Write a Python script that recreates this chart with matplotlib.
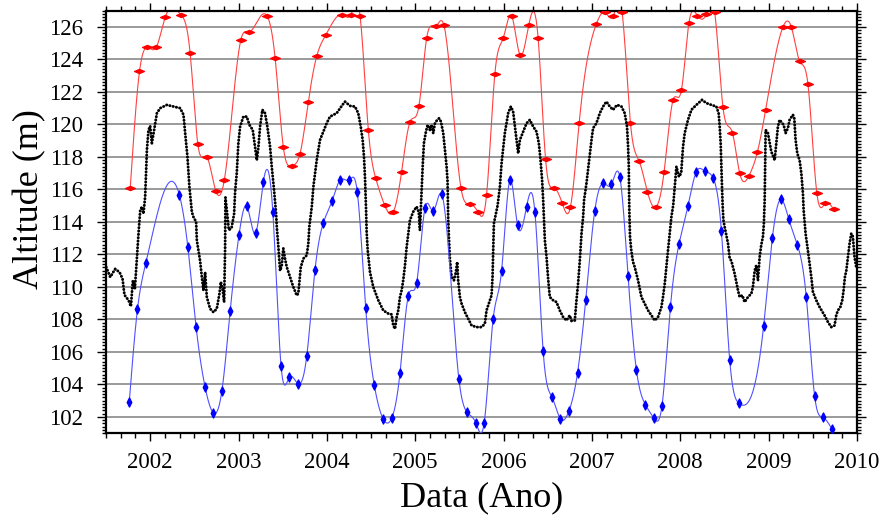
import numpy as np
import matplotlib
matplotlib.use('Agg')
import matplotlib.pyplot as plt
from matplotlib.ticker import MultipleLocator, FixedLocator
from matplotlib.path import Path

# ---------------- data ----------------
red_t = [2001.774, 2001.879, 2001.969, 2002.068, 2002.170, 2002.347, 2002.452, 2002.539,
         2002.641, 2002.743, 2002.840, 2003.026, 2003.123, 2003.320, 2003.414, 2003.507,
         2003.602, 2003.696, 2003.790, 2003.885, 2003.987, 2004.175, 2004.273, 2004.375,
         2004.469, 2004.552, 2004.654, 2004.751, 2004.846, 2004.940, 2005.042, 2005.129,
         2005.231, 2005.325, 2005.517, 2005.619, 2005.712, 2005.807, 2005.901, 2005.995,
         2006.090, 2006.184, 2006.286, 2006.391, 2006.475, 2006.569, 2006.662, 2006.757,
         2006.855, 2007.051, 2007.145, 2007.239, 2007.341, 2007.436, 2007.533, 2007.628,
         2007.722, 2007.816, 2007.918, 2008.012, 2008.098, 2008.193, 2008.295, 2008.389,
         2008.483, 2008.589, 2008.672, 2008.777, 2008.872, 2008.966, 2009.162, 2009.257,
         2009.350, 2009.444, 2009.546, 2009.641, 2009.735]
red_h = [116.06, 123.26, 124.74, 124.74, 126.60, 126.76, 124.40, 118.80,
         118.00, 115.90, 116.60, 125.20, 125.70, 126.70, 124.09, 118.60,
         117.46, 118.20, 121.40, 124.20, 125.50, 126.76, 126.76, 126.70,
         119.66, 116.70, 115.03, 114.60, 117.09, 120.14, 121.14, 125.30,
         126.04, 126.10, 116.10, 115.10, 114.60, 115.65, 123.10, 125.30,
         126.70, 124.30, 126.14, 125.30, 117.87, 116.10, 115.17, 114.93,
         120.07, 126.20, 126.90, 126.65, 126.90, 120.07, 117.76, 115.85,
         114.90, 117.05, 121.50, 122.09, 126.25, 126.70, 126.80, 126.90,
         121.06, 119.50, 117.00, 116.84, 118.28, 120.90, 126.00, 126.00,
         123.90, 122.50, 115.75, 115.14, 114.77]

black_t = [2001.502, 2001.548, 2001.604, 2001.653, 2001.687, 2001.709, 2001.755, 2001.782,
           2001.804, 2001.827, 2001.850, 2001.868, 2001.887, 2001.906, 2001.924, 2001.943,
           2001.963, 2001.981, 2002.000, 2002.019, 2002.045, 2002.076, 2002.113, 2002.189,
           2002.263, 2002.339, 2002.377, 2002.396, 2002.422, 2002.444, 2002.472, 2002.490,
           2002.520, 2002.528, 2002.565, 2002.585, 2002.603, 2002.622, 2002.641, 2002.678,
           2002.716, 2002.754, 2002.784, 2002.800, 2002.822, 2002.837, 2002.848, 2002.852,
           2002.870, 2002.890, 2002.920, 2002.950, 2002.961, 2002.980, 2002.998, 2003.018,
           2003.055, 2003.093, 2003.123, 2003.161, 2003.187, 2003.207, 2003.225, 2003.244,
           2003.270, 2003.300, 2003.326, 2003.357, 2003.376, 2003.402, 2003.425, 2003.433,
           2003.451, 2003.470, 2003.489, 2003.507, 2003.527, 2003.546, 2003.583, 2003.620,
           2003.659, 2003.677, 2003.704, 2003.734, 2003.772, 2003.790, 2003.801, 2003.829,
           2003.847, 2003.885, 2003.922, 2003.960, 2003.998, 2004.035, 2004.111, 2004.168,
           2004.205, 2004.262, 2004.318, 2004.355, 2004.383, 2004.405, 2004.420, 2004.431,
           2004.439, 2004.443, 2004.450, 2004.462, 2004.488, 2004.525, 2004.582, 2004.638,
           2004.695, 2004.733, 2004.751, 2004.771, 2004.790, 2004.808, 2004.827, 2004.846,
           2004.864, 2004.884, 2004.903, 2004.921, 2004.940, 2004.977, 2005.016, 2005.040,
           2005.053, 2005.072, 2005.084, 2005.098, 2005.121, 2005.140, 2005.166, 2005.185,
           2005.204, 2005.223, 2005.249, 2005.271, 2005.291, 2005.317, 2005.336, 2005.355,
           2005.366, 2005.373, 2005.381, 2005.392, 2005.412, 2005.438, 2005.460, 2005.475,
           2005.486, 2005.506, 2005.525, 2005.562, 2005.599, 2005.638, 2005.694, 2005.751,
           2005.788, 2005.807, 2005.845, 2005.864, 2005.875, 2005.882, 2005.890, 2005.913,
           2005.932, 2005.958, 2005.977, 2006.014, 2006.052, 2006.082, 2006.108, 2006.128,
           2006.147, 2006.165, 2006.184, 2006.215, 2006.260, 2006.297, 2006.334, 2006.373,
           2006.399, 2006.418, 2006.436, 2006.448, 2006.467, 2006.486, 2006.504, 2006.523,
           2006.561, 2006.599, 2006.636, 2006.674, 2006.712, 2006.749, 2006.769, 2006.806,
           2006.825, 2006.843, 2006.863, 2006.882, 2006.900, 2006.911, 2006.938, 2006.968,
           2006.995, 2007.013, 2007.051, 2007.089, 2007.126, 2007.164, 2007.202, 2007.239,
           2007.284, 2007.334, 2007.371, 2007.397, 2007.409, 2007.417, 2007.420, 2007.423,
           2007.431, 2007.445, 2007.465, 2007.484, 2007.522, 2007.560, 2007.597, 2007.635,
           2007.673, 2007.711, 2007.748, 2007.786, 2007.804, 2007.824, 2007.843, 2007.861,
           2007.880, 2007.899, 2007.920, 2007.937, 2007.956, 2007.985, 2008.010, 2008.031,
           2008.050, 2008.087, 2008.126, 2008.182, 2008.246, 2008.295, 2008.352, 2008.408,
           2008.434, 2008.446, 2008.457, 2008.465, 2008.472, 2008.480, 2008.488, 2008.502,
           2008.540, 2008.559, 2008.578, 2008.615, 2008.653, 2008.672, 2008.702, 2008.728,
           2008.766, 2008.804, 2008.822, 2008.842, 2008.861, 2008.879, 2008.898, 2008.917,
           2008.935, 2008.946, 2008.955, 2008.966, 2008.992, 2009.030, 2009.068, 2009.105,
           2009.124, 2009.170, 2009.192, 2009.218, 2009.237, 2009.275, 2009.290, 2009.305,
           2009.324, 2009.350, 2009.370, 2009.388, 2009.396, 2009.418, 2009.444, 2009.483,
           2009.501, 2009.539, 2009.577, 2009.633, 2009.671, 2009.709, 2009.746, 2009.765,
           2009.784, 2009.811, 2009.833, 2009.848, 2009.863, 2009.879, 2009.897, 2009.916,
           2009.935, 2009.953, 2009.972, 2009.992]
black_h = [111.22, 110.60, 111.10, 110.90, 110.50, 109.50, 109.17, 108.80,
           110.40, 109.90, 111.84, 113.28, 114.70, 114.93, 114.50, 115.54,
           118.43, 119.66, 119.90, 118.84, 119.66, 120.69, 121.00, 121.20,
           121.10, 121.00, 120.60, 119.46, 118.00, 116.16, 114.60, 114.30,
           114.00, 112.87, 111.60, 110.60, 109.78, 110.90, 109.37, 108.65,
           108.44, 108.65, 109.58, 110.30, 109.78, 109.06, 112.40, 115.50,
           114.60, 113.50, 113.60, 114.50, 115.85, 117.00, 118.84, 119.87,
           120.48, 120.48, 119.97, 119.66, 118.63, 117.80, 118.60, 119.87,
           120.90, 120.69, 119.87, 118.63, 117.40, 115.96, 114.52, 113.69,
           112.46, 111.00, 111.30, 112.36, 111.70, 111.22, 110.60, 109.99,
           109.47, 109.60, 111.20, 111.74, 111.94, 112.67, 113.70, 114.93,
           116.16, 117.80, 119.04, 119.55, 120.07, 120.48, 120.69, 121.14,
           121.40, 121.14, 121.10, 120.69, 119.87, 119.04, 118.00, 116.78,
           115.54, 114.83, 113.38, 112.25, 110.90, 109.99, 109.17, 108.55,
           108.35, 108.30, 107.62, 107.42, 108.14, 108.55, 109.37, 109.78,
           110.40, 111.33, 112.46, 113.28, 114.10, 114.62, 114.93, 114.60,
           113.49, 115.96, 117.40, 118.84, 119.55, 119.97, 119.66, 119.97,
           119.46, 120.07, 120.28, 120.38, 120.17, 119.46, 118.43, 117.40,
           116.47, 114.20, 113.07, 111.74, 110.60, 110.40, 110.90, 111.53,
           110.40, 109.37, 108.96, 108.44, 108.04, 107.62, 107.52, 107.52,
           107.73, 108.55, 109.17, 109.48, 110.60, 112.25, 113.90, 114.52,
           115.00, 116.16, 117.60, 119.46, 120.69, 121.10, 120.79, 119.87,
           119.04, 118.22, 119.04, 119.46, 120.07, 120.28, 119.87, 119.55,
           118.84, 117.80, 116.57, 115.34, 112.87, 111.84, 110.50, 109.37,
           109.17, 109.06, 108.55, 108.14, 107.93, 108.24, 107.90, 107.93,
           109.17, 110.20, 111.64, 113.28, 114.30, 115.34, 116.37, 117.80,
           119.04, 119.77, 120.07, 120.69, 121.10, 121.40, 121.10, 120.90,
           121.20, 121.10, 120.69, 119.87, 118.63, 117.40, 116.16, 114.72,
           113.07, 112.25, 111.53, 111.22, 110.40, 109.37, 108.96, 108.55,
           108.24, 107.93, 108.14, 108.75, 109.37, 110.20, 111.22, 112.25,
           113.28, 114.30, 115.03, 116.16, 117.40, 116.78, 117.00, 118.63,
           119.46, 120.28, 120.90, 121.20, 121.51, 121.31, 121.20, 121.10,
           120.69, 119.87, 118.84, 117.40, 116.16, 114.93, 114.10, 113.69,
           112.67, 111.74, 111.60, 110.81, 109.78, 109.37, 109.48, 109.06,
           109.37, 109.58, 110.00, 111.00, 111.33, 110.40, 111.84, 112.60,
           113.07, 113.90, 115.34, 119.66, 119.46, 118.32, 117.80, 119.87,
           120.28, 119.97, 119.46, 119.77, 120.28, 120.59, 120.38, 119.04,
           118.22, 117.80, 116.99, 115.75, 114.72, 113.28, 112.25, 110.60,
           109.68, 109.17, 108.75, 108.24, 107.83, 107.52, 107.62, 108.24,
           108.55, 108.75, 109.17, 109.78, 110.60, 111.00, 111.84, 112.67,
           113.28, 113.10, 111.84, 111.20]

blue_t = [2001.763, 2001.856, 2001.951, 2002.331, 2002.426, 2002.520, 2002.622, 2002.716,
          2002.811, 2002.905, 2003.006, 2003.093, 2003.195, 2003.281, 2003.388, 2003.481,
          2003.575, 2003.677, 2003.772, 2003.866, 2003.960, 2004.058, 2004.149, 2004.254,
          2004.344, 2004.439, 2004.536, 2004.638, 2004.733, 2004.827, 2004.921, 2005.016,
          2005.110, 2005.204, 2005.299, 2005.494, 2005.588, 2005.686, 2005.780, 2005.882,
          2005.977, 2006.071, 2006.158, 2006.260, 2006.354, 2006.448, 2006.549, 2006.644,
          2006.738, 2006.837, 2006.930, 2007.032, 2007.126, 2007.221, 2007.315, 2007.409,
          2007.504, 2007.605, 2007.699, 2007.793, 2007.888, 2007.985, 2008.087, 2008.182,
          2008.276, 2008.370, 2008.465, 2008.559, 2008.661, 2008.943, 2009.042, 2009.136,
          2009.229, 2009.324, 2009.426, 2009.520, 2009.614, 2009.716]
blue_h = [102.89, 108.61, 111.47, 115.65, 112.46, 107.52, 103.82, 102.23,
          103.57, 108.49, 113.22, 114.97, 113.32, 116.47, 114.62, 105.15,
          104.43, 104.02, 105.73, 111.06, 113.94, 115.28, 116.57, 116.57,
          115.85, 108.72, 103.96, 101.86, 101.90, 104.68, 109.43, 110.26,
          114.83, 114.66, 115.71, 104.33, 102.27, 101.62, 101.62, 108.04,
          110.98, 116.57, 113.80, 114.93, 114.62, 106.02, 103.20, 101.86,
          102.33, 104.70, 109.21, 114.68, 116.37, 116.31, 116.78, 110.65,
          104.85, 102.75, 101.93, 102.69, 108.75, 112.62, 114.97, 117.09,
          117.13, 116.72, 113.45, 105.51, 102.85, 107.58, 113.01, 115.38,
          114.15, 112.60, 109.37, 103.30, 101.96, 101.25]

year_ticks = [2002, 2003, 2004, 2005, 2006, 2007, 2008, 2009, 2010]
alt_ticks = [102, 104, 106, 108, 110, 112, 114, 116, 118, 120, 122, 124, 126]


def spline_curve(x, y, per_seg=24):
    """Natural cubic spline drawn through the read points (rendering only)."""
    x = np.asarray(x, float)
    y = np.asarray(y, float)
    n = len(x)
    h = np.diff(x)
    A = np.zeros((n, n))
    r = np.zeros(n)
    A[0, 0] = A[-1, -1] = 1.0
    for i in range(1, n - 1):
        A[i, i - 1] = h[i - 1]
        A[i, i] = 2 * (h[i - 1] + h[i])
        A[i, i + 1] = h[i]
        r[i] = 3 * ((y[i + 1] - y[i]) / h[i] - (y[i] - y[i - 1]) / h[i - 1])
    c = np.linalg.solve(A, r)
    b = (y[1:] - y[:-1]) / h - h * (2 * c[:-1] + c[1:]) / 3
    d = (c[1:] - c[:-1]) / (3 * h)
    xs, ys = [], []
    for i in range(n - 1):
        t = np.linspace(0, h[i], per_seg, endpoint=False)
        xs.append(x[i] + t)
        ys.append(y[i] + b[i] * t + c[i] * t ** 2 + d[i] * t ** 3)
    xs.append([x[-1]])
    ys.append([y[-1]])
    return np.concatenate(xs), np.concatenate(ys)


plt.rcParams['font.family'] = ['Liberation Serif', 'DejaVu Serif']

fig = plt.figure(figsize=(8.93, 5.19), dpi=100)
ax = fig.add_axes([106 / 893, 1 - 433 / 519, (857 - 106) / 893, (433 - 10.7) / 519])

ax.set_xlim(2001.5, 2010)
ax.set_ylim(101, 127)

# horizontal grid
for v in alt_ticks:
    ax.axhline(v, color='#9a9a9a', lw=1.4, zorder=0)

# markers
red_marker = Path([(-1, 0), (0, 0.42), (1, 0), (0, -0.42), (-1, 0)],
                  [Path.MOVETO, Path.LINETO, Path.LINETO, Path.LINETO, Path.CLOSEPOLY])
blue_marker = Path([(0, 1), (0.5, 0), (0, -1), (-0.5, 0), (0, 1)],
                   [Path.MOVETO, Path.LINETO, Path.LINETO, Path.LINETO, Path.CLOSEPOLY])

rx, ry = spline_curve(red_t, red_h)
ax.plot(rx, ry, color='#ff4040', lw=0.8, zorder=2)
ax.plot(red_t, red_h, ls='none', marker=red_marker, ms=7, color='red', mec='red', zorder=3)

ax.plot(black_t, black_h, color='black', lw=2.1, ls=(0, (0.1, 1.05)),
        dash_capstyle='round', zorder=4)

bx, by = spline_curve(blue_t, blue_h)
ax.plot(bx, by, color='#5050ff', lw=0.8, zorder=5)
ax.plot(blue_t, blue_h, ls='none', marker=blue_marker, ms=6.5, color='blue', mec='blue', zorder=6)

# axes styling
for s in ax.spines.values():
    s.set_linewidth(1.6)
ax.xaxis.set_major_locator(FixedLocator(year_ticks))
ax.xaxis.set_minor_locator(MultipleLocator(1 / 6))
ax.yaxis.set_major_locator(FixedLocator(alt_ticks))
ax.yaxis.set_minor_locator(MultipleLocator(0.2))
ax.set_xticklabels([str(v) for v in year_ticks])
ax.set_yticklabels([str(v) for v in alt_ticks])
ax.tick_params(which='both', direction='out', top=True, right=True, width=1.0)
ax.tick_params(axis='x', which='major', length=6, pad=8, labelsize=16.5)
ax.tick_params(axis='x', which='minor', length=3.5)
ax.tick_params(axis='y', which='major', length=6.5, pad=10, labelsize=16.5)
ax.tick_params(axis='y', which='minor', length=3)

ax.set_xlabel('Data (Ano)', fontsize=26)
ax.xaxis.set_label_coords(0.5, (433 - 498) / 422.3)
ax.xaxis.label.set_va('center')
ax.set_ylabel('Altitude (m)', fontsize=26)
ax.yaxis.set_label_coords((30 - 106) / 751, (433 - 199) / 422.3)
ax.yaxis.label.set_va('center')

fig.savefig('out.png', dpi=100)
